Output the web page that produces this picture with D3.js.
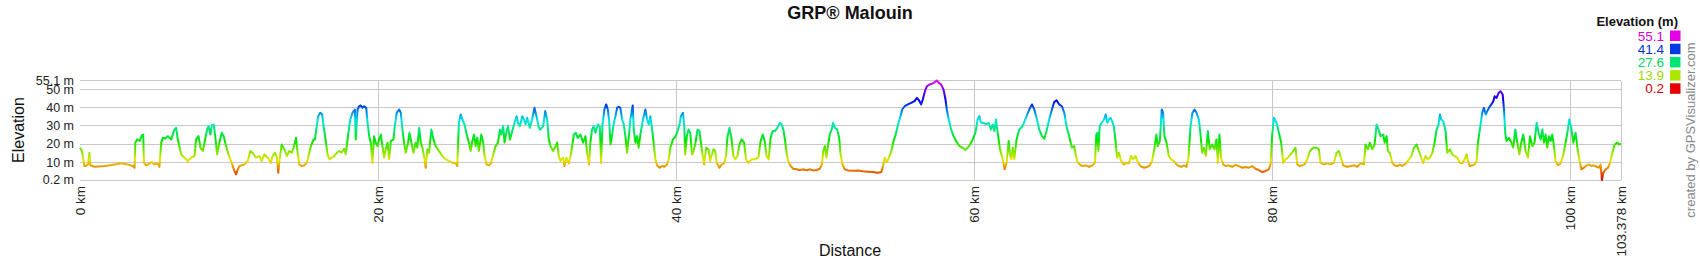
<!DOCTYPE html>
<html><head><meta charset="utf-8">
<script src="https://cdn.jsdelivr.net/npm/d3@7"></script>
<style>body{margin:0;background:#fff} svg{display:block} text{font-family:Arial,"Liberation Sans",sans-serif}</style>
</head><body>
<svg id="c" width="1700" height="260"></svg>
<script>
const distKm = [0.00,0.13,0.22,0.27,0.36,0.54,0.63,0.69,0.98,1.65,2.32,2.77,3.21,3.55,3.66,3.71,3.84,4.00,4.15,4.24,4.29,4.44,4.67,4.82,5.00,5.22,5.33,5.45,5.56,5.71,5.89,6.12,6.34,6.45,6.56,6.79,7.01,7.23,7.46,7.68,7.79,7.95,8.08,8.24,8.35,8.53,8.62,8.75,8.84,8.97,9.06,9.20,9.35,9.51,9.64,9.80,9.96,10.13,10.25,10.36,10.47,10.54,10.69,11.03,11.25,11.43,11.58,11.81,12.03,12.19,12.37,12.59,12.81,12.92,13.08,13.21,13.30,13.39,13.53,13.71,13.88,14.04,14.20,14.33,14.49,14.60,14.71,14.87,15.04,15.22,15.38,15.49,15.67,15.76,15.85,15.98,16.12,16.25,16.34,16.47,16.61,16.74,16.88,17.05,17.23,17.39,17.54,17.72,17.83,17.99,18.13,18.28,18.44,18.50,18.62,18.73,18.84,18.95,19.06,19.20,19.29,19.40,19.51,19.62,19.73,19.84,19.96,20.07,20.18,20.29,20.40,20.51,20.63,20.74,20.85,21.03,21.12,21.25,21.41,21.52,21.63,21.74,21.85,22.01,22.10,22.23,22.37,22.52,22.63,22.75,22.86,22.97,23.08,23.19,23.30,23.42,23.57,23.71,23.86,24.08,24.31,24.53,24.75,24.98,25.20,25.31,25.42,25.54,25.65,25.80,25.94,26.09,26.21,26.32,26.43,26.54,26.65,26.76,26.92,27.05,27.14,27.28,27.43,27.59,27.72,27.88,28.04,28.17,28.26,28.39,28.48,28.62,28.71,28.84,29.00,29.15,29.29,29.38,29.51,29.67,29.78,29.89,30.00,30.18,30.33,30.49,30.62,30.78,30.89,31.07,31.21,31.34,31.45,31.56,31.74,31.90,32.01,32.12,32.23,32.41,32.50,32.63,32.79,32.95,33.13,33.26,33.39,33.57,33.75,33.91,34.02,34.15,34.24,34.35,34.46,34.58,34.74,34.87,34.96,35.05,35.18,35.30,35.41,35.50,35.59,35.70,35.81,35.92,36.03,36.14,36.25,36.37,36.48,36.59,36.70,36.81,36.92,37.08,37.15,37.26,37.37,37.48,37.59,37.77,37.93,38.04,38.15,38.26,38.37,38.48,38.60,38.71,38.89,39.04,39.20,39.38,39.49,39.60,39.78,39.96,40.09,40.22,40.31,40.45,40.54,40.60,40.71,40.82,40.94,41.05,41.16,41.29,41.43,41.56,41.65,41.78,41.87,42.01,42.16,42.27,42.39,42.50,42.61,42.72,42.90,43.05,43.21,43.34,43.43,43.57,43.70,43.83,43.97,44.10,44.24,44.39,44.55,44.68,44.84,45.06,45.28,45.51,45.66,45.80,45.93,46.06,46.20,46.33,46.47,46.62,46.78,46.96,47.07,47.18,47.29,47.40,47.51,47.67,47.85,48.07,48.29,48.52,48.74,48.96,49.19,49.41,49.63,49.77,49.86,49.97,50.08,50.19,50.30,50.43,50.52,50.64,50.79,50.93,51.01,51.15,51.30,51.53,51.86,52.20,52.53,52.87,53.20,53.53,53.76,53.87,53.98,54.14,54.27,54.43,54.58,54.72,54.85,54.98,55.16,55.32,55.54,55.76,55.99,56.14,56.28,56.43,56.54,56.68,56.81,56.99,57.17,57.32,57.48,57.61,57.77,57.93,58.06,58.15,58.28,58.44,58.60,58.77,59.00,59.22,59.40,59.55,59.71,59.89,60.07,60.22,60.33,60.45,60.60,60.78,60.96,61.11,61.23,61.34,61.45,61.56,61.72,61.90,62.03,62.16,62.30,62.39,62.48,62.57,62.68,62.83,63.01,63.23,63.46,63.68,63.86,64.02,64.17,64.35,64.53,64.69,64.84,65.02,65.20,65.35,65.51,65.69,65.87,66.03,66.18,66.36,66.54,66.69,66.80,66.91,67.07,67.25,67.47,67.69,67.92,68.09,68.18,68.25,68.32,68.41,68.54,68.70,68.81,68.92,69.02,69.13,69.24,69.35,69.46,69.57,69.69,69.84,70.02,70.20,70.36,70.51,70.65,70.81,70.96,71.14,71.36,71.59,71.77,71.92,72.08,72.21,72.30,72.44,72.57,72.66,72.75,72.89,73.04,73.20,73.38,73.56,73.71,73.87,74.05,74.23,74.36,74.50,74.63,74.77,74.90,75.06,75.17,75.28,75.39,75.53,75.66,75.79,75.95,76.11,76.24,76.33,76.44,76.55,76.69,76.85,77.07,77.29,77.52,77.74,77.96,78.19,78.41,78.64,78.86,79.08,79.31,79.53,79.75,79.87,79.98,80.09,80.27,80.43,80.58,80.72,80.87,81.03,81.21,81.39,81.54,81.66,81.83,81.99,82.15,82.33,82.51,82.73,82.95,83.11,83.22,83.45,83.67,83.89,84.12,84.30,84.45,84.56,84.74,85.01,85.28,85.50,85.68,85.91,86.13,86.24,86.40,86.53,86.69,86.85,86.98,87.11,87.25,87.43,87.52,87.65,87.74,87.87,88.03,88.19,88.37,88.55,88.70,88.86,88.99,89.15,89.31,89.49,89.66,89.82,89.98,90.11,90.27,90.43,90.56,90.72,90.87,91.01,91.14,91.23,91.32,91.45,91.61,91.72,91.90,92.06,92.21,92.39,92.57,92.73,92.89,93.02,93.11,93.24,93.40,93.56,93.69,93.78,93.91,94.07,94.18,94.30,94.41,94.52,94.68,94.81,94.90,95.03,95.17,95.30,95.44,95.53,95.62,95.70,95.86,96.02,96.15,96.29,96.42,96.56,96.69,96.82,96.98,97.14,97.27,97.43,97.58,97.72,97.85,97.99,98.10,98.21,98.32,98.43,98.55,98.66,98.77,98.88,98.99,99.15,99.33,99.51,99.66,99.78,99.91,100.04,100.18,100.33,100.45,100.58,100.72,100.89,101.07,101.23,101.39,101.57,101.75,101.90,102.01,102.10,102.19,102.35,102.51,102.64,102.80,102.95,103.13,103.24,103.378];
const elevM = [18.0,16.2,11.6,8.3,7.9,8.8,15.2,8.3,7.5,7.9,8.8,9.4,8.8,7.9,7.0,20.8,22.6,21.7,24.8,25.3,9.7,8.3,9.4,10.1,8.8,9.4,7.5,20.8,23.5,23.0,24.4,22.6,28.1,29.0,22.6,14.3,12.5,10.7,12.5,13.4,22.6,24.4,18.0,16.2,20.8,28.1,29.9,25.3,30.3,30.8,25.3,14.3,20.8,26.3,24.4,18.9,14.3,10.7,7.9,5.2,3.3,5.2,7.9,8.8,10.7,16.2,15.2,12.5,13.4,10.7,14.3,12.5,9.7,13.4,15.2,12.5,4.2,11.6,19.8,17.1,13.4,16.2,15.2,18.0,23.5,15.2,8.8,7.9,8.3,9.7,15.2,18.9,22.6,22.6,28.1,35.4,37.3,36.3,29.9,22.6,14.3,11.6,12.5,13.4,15.2,16.2,15.2,17.4,14.3,25.3,33.6,37.3,39.1,22.6,39.1,40.9,41.3,40.0,40.9,40.0,31.8,24.4,20.8,9.7,24.4,20.8,18.9,22.6,25.3,18.9,12.5,17.1,20.8,11.6,21.7,22.6,29.9,37.3,39.1,37.3,28.1,20.8,15.2,20.8,26.3,20.8,15.2,20.8,18.0,29.0,20.8,18.0,13.4,7.0,17.1,15.2,28.1,22.6,18.9,16.2,13.4,11.6,10.7,9.7,9.4,7.9,31.8,36.3,33.6,30.8,25.3,20.8,16.2,21.7,25.3,18.9,23.5,16.2,25.3,20.8,13.4,8.8,8.3,9.7,14.3,18.9,20.8,28.1,25.3,29.9,20.8,27.2,29.9,22.6,27.2,31.8,35.4,31.8,29.9,35.4,33.6,30.8,34.5,29.0,33.6,40.0,35.4,29.0,28.1,29.9,38.2,33.6,22.6,18.9,16.2,18.9,20.8,13.4,10.7,12.5,7.9,12.5,9.4,15.2,25.3,26.3,23.5,25.3,20.8,24.4,15.2,8.8,20.8,28.1,29.9,26.3,30.8,29.9,9.7,30.8,39.1,41.9,39.1,32.7,19.8,25.3,31.8,35.4,40.0,40.6,40.0,33.6,30.8,24.4,15.2,23.5,33.6,41.3,28.1,20.8,24.4,18.0,25.3,33.6,39.1,33.6,30.8,35.4,29.0,20.8,11.6,8.3,7.0,7.9,7.5,8.8,11.6,18.0,22.6,24.4,27.2,30.8,35.4,37.3,29.9,14.3,24.4,28.1,26.3,14.3,16.2,20.8,28.1,27.2,20.8,13.4,8.8,18.0,17.1,10.7,14.3,17.1,16.2,9.7,7.0,8.8,9.4,13.4,23.5,29.0,23.5,13.4,11.6,13.4,19.8,22.6,20.8,11.6,9.7,11.6,11.6,12.5,21.7,25.3,21.7,13.4,11.6,23.5,27.2,27.2,29.0,31.8,30.8,28.1,22.6,15.2,10.7,7.9,6.4,6.1,5.7,6.1,5.5,6.1,5.5,5.7,6.4,8.8,16.2,18.9,12.5,19.8,25.3,28.1,31.8,29.0,28.1,23.5,15.2,8.8,6.1,5.5,5.3,5.5,5.0,4.8,4.6,4.2,4.6,7.9,12.5,10.1,12.5,16.2,21.7,25.3,29.9,33.6,39.1,40.9,41.9,42.8,43.7,45.5,44.2,41.9,44.6,49.2,51.9,52.9,53.4,54.1,55.1,53.8,52.9,50.1,44.6,39.1,33.6,28.1,24.4,21.7,18.9,18.0,16.7,18.0,19.8,22.6,26.3,33.6,35.4,31.8,31.8,30.8,31.8,28.1,30.8,27.2,33.6,26.3,17.1,11.6,6.1,9.7,21.7,14.3,11.6,18.0,11.6,22.6,28.1,29.9,34.5,39.1,41.9,39.1,34.5,28.1,24.4,23.0,27.2,33.6,39.1,43.1,44.2,41.9,40.9,37.3,29.9,24.4,18.0,18.9,14.3,10.1,8.8,7.9,8.3,7.5,8.3,9.7,25.3,26.3,16.2,29.9,31.8,33.6,36.3,31.8,33.6,34.5,32.7,29.9,22.6,12.5,15.2,10.7,8.8,9.7,9.4,13.4,11.6,13.4,10.1,7.9,7.0,7.4,8.3,10.7,18.0,25.3,18.9,21.7,39.1,37.3,24.4,20.8,13.4,11.6,10.7,8.8,7.9,7.5,8.3,7.5,12.5,29.9,37.3,39.1,37.3,33.6,25.3,15.2,18.0,13.4,27.2,17.1,19.8,17.1,22.6,9.7,25.3,12.5,8.8,7.9,8.3,7.5,8.6,7.9,7.0,7.4,7.0,7.9,6.4,5.7,4.6,5.2,6.1,8.8,25.3,34.5,31.8,26.3,20.8,9.7,11.6,12.5,14.3,16.2,18.0,8.8,7.9,8.3,8.8,11.6,16.2,18.0,18.0,17.1,9.7,8.8,9.4,8.8,9.7,15.2,16.2,13.4,8.3,7.5,7.9,8.3,7.5,9.4,8.8,19.8,17.1,20.8,17.1,19.8,30.8,28.1,24.4,25.3,20.8,24.4,16.2,15.2,9.7,8.3,7.9,8.8,7.9,8.8,9.7,11.6,13.4,18.0,19.8,16.2,12.5,9.7,13.4,11.6,12.5,15.2,20.8,28.1,30.8,36.3,33.6,32.7,27.2,15.2,17.1,14.3,13.4,12.5,9.7,9.4,11.6,14.3,10.7,7.9,8.3,8.8,10.7,20.8,28.1,37.3,40.0,36.3,38.2,40.0,41.9,43.7,46.4,45.5,48.3,49.2,47.4,39.1,25.3,21.7,23.5,20.8,18.0,28.1,20.8,14.3,20.8,25.3,16.2,12.5,24.4,18.9,20.8,31.8,26.3,22.6,28.1,20.8,25.3,18.0,24.4,21.7,25.3,18.9,10.7,8.3,9.4,14.3,20.8,26.3,33.6,29.0,20.8,26.3,18.0,11.6,6.1,7.0,8.3,8.8,7.9,8.3,7.5,7.0,8.8,0.2,4.2,6.1,7.0,9.7,15.2,19.8,20.8,19.8,20.2];
const yTicks = [0.2, 10, 20, 30, 40, 50, 55.1];
const xTicks = [0, 20, 40, 60, 80, 100, 103.378];
const legendValues = [55.1, 41.4, 27.6, 13.9, 0.2];
const chartTitle = "GRP® Malouin";

const svg = d3.select("#c");
const x = d3.scaleLinear().domain([0, 103.378]).range([80, 1621]);
const y = d3.scaleLinear().domain([0.2, 55.1]).range([180, 80.5]);
const eMin = 0.2, eMax = 55.1;
const hue = e => 300 * (e - eMin) / (eMax - eMin);
const color = e => d3.hsl(hue(e), 1, 0.45).formatHex();
const textColor = e => d3.hsl(hue(e), 1, 0.42).formatHex();

const defs = svg.append("defs");
const grad = defs.append("linearGradient").attr("id", "eg")
  .attr("gradientUnits", "userSpaceOnUse")
  .attr("x1", 0).attr("x2", 0).attr("y1", y(eMin)).attr("y2", y(eMax));
d3.range(0, 1.0001, 0.05).forEach(t => {
  grad.append("stop").attr("offset", t).attr("stop-color", color(eMin + t * (eMax - eMin)));
});

const grid = svg.append("g").attr("stroke", "#c8c8c8").attr("stroke-width", 1).attr("shape-rendering", "crispEdges");
grid.selectAll("line.h").data(yTicks).join("line")
  .attr("x1", x(0)).attr("x2", x(103.378)).attr("y1", d => y(d)).attr("y2", d => y(d));
grid.selectAll("line.v").data(xTicks.slice(1)).join("line")
  .attr("x1", d => x(d)).attr("x2", d => x(d)).attr("y1", y(eMax)).attr("y2", y(eMin));

svg.append("g").selectAll("text").data(yTicks).join("text")
  .attr("x", 74).attr("y", d => y(d)).attr("dy", "0.35em")
  .attr("text-anchor", "end").attr("font-size", 12.5).attr("fill", "#222")
  .text(d => d + " m");

svg.append("g").selectAll("text").data(xTicks).join("text")
  .attr("transform", d => `translate(${x(d)},186) rotate(-90)`)
  .attr("dy", "0.35em").attr("text-anchor", "end").attr("font-size", 13.5).attr("fill", "#222")
  .text(d => d + " km");

const line = d3.line().x(i => x(distKm[i])).y(i => y(elevM[i]));
svg.append("path").attr("d", line(d3.range(distKm.length)))
  .attr("fill", "none").attr("stroke", "url(#eg)").attr("stroke-width", 2)
  .attr("stroke-linejoin", "round");

svg.append("text").attr("x", 850).attr("y", 19).attr("text-anchor", "middle")
  .attr("font-size", 18).attr("font-weight", "bold").attr("fill", "#111").text(chartTitle);

svg.append("text").attr("transform", "translate(24,130) rotate(-90)").attr("text-anchor", "middle")
  .attr("font-size", 16).attr("fill", "#111").text("Elevation");
svg.append("text").attr("x", 850).attr("y", 256).attr("text-anchor", "middle")
  .attr("font-size", 16).attr("fill", "#111").text("Distance");

svg.append("text").attr("transform", "translate(1695,130) rotate(-90)").attr("text-anchor", "middle")
  .attr("font-size", 13).attr("fill", "#888").text("created by GPSVisualizer.com");

svg.append("text").attr("x", 1678).attr("y", 26).attr("text-anchor", "end")
  .attr("font-size", 13).attr("font-weight", "bold").attr("fill", "#111").text("Elevation (m)");
const lg = svg.append("g").selectAll("g").data(legendValues).join("g")
  .attr("transform", (d, i) => `translate(0,${40.5 + i * 13.2})`);
lg.append("text").attr("x", 1664).attr("y", 0).attr("text-anchor", "end")
  .attr("font-size", 13.5).attr("fill", d => textColor(d)).text(d => d.toFixed(1));
lg.append("rect").attr("x", 1670).attr("y", -10).attr("width", 10.5).attr("height", 10.5)
  .attr("fill", d => color(d));
</script>
</body></html>
